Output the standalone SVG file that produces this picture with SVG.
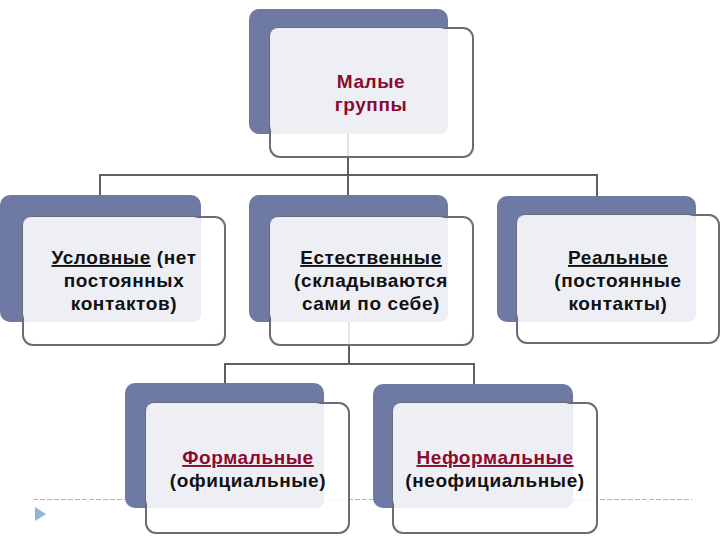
<svg xmlns="http://www.w3.org/2000/svg" width="720" height="540" viewBox="0 0 720 540">
<style>
.back{fill:#6E7AA3}
.front{fill:#ffffff;fill-opacity:0.82;stroke:#6B6B7A;stroke-width:2}
.over{fill:#EEEFF5}
.conn{fill:none;stroke:#5E5E66;stroke-width:2}
text{font-family:"Liberation Sans",Arial,sans-serif;font-size:19px;font-weight:bold;letter-spacing:0.6px;text-anchor:middle;fill:#111}
.red{fill:#8B0A2E}
.u{text-decoration:underline}
</style>
<rect width="720" height="540" fill="#ffffff"/>
<g id="footer">
<line x1="33" y1="499.5" x2="692" y2="499.5" stroke="#B4B4BE" stroke-width="1" stroke-dasharray="5 2"/>
<polygon points="35,507 46,514 35,521" fill="#8DB6DA"/>
</g>
<g id="connectors">
<path class="conn" d="M348 133 V175 M100 175 H597 M100 174 V196 M348 175 V196 M597 174 V196"/>
<path class="conn" d="M349 322 V364 M225 364 H474 M225 363 V384 M474 363 V384"/>
</g>
<g id="n-top">
<rect class="back" x="249" y="9" width="199" height="125" rx="10"/>
<rect class="front" x="270" y="28" width="203" height="129" rx="10"/>
<rect class="over" x="270" y="28" width="178" height="106" rx="8"/>
<text class="red" x="371" y="88">Малые</text>
<text class="red" x="371" y="111">группы</text>
</g>
<g id="n-left">
<rect class="back" x="0" y="195" width="201" height="127" rx="10"/>
<rect class="front" x="23" y="217" width="202" height="128" rx="10"/>
<rect class="over" x="23" y="217" width="178" height="105" rx="8"/>
<text x="124" y="264"><tspan class="u">Условные</tspan> (нет</text>
<text x="124" y="287">постоянных</text>
<text x="124" y="310">контактов)</text>
</g>
<g id="n-mid">
<rect class="back" x="249" y="195" width="199" height="127" rx="10"/>
<rect class="front" x="270" y="217" width="203" height="128" rx="10"/>
<rect class="over" x="270" y="217" width="178" height="105" rx="8"/>
<text x="371" y="264" class="u">Естественные</text>
<text x="371" y="287">(складываются</text>
<text x="371" y="310">сами по себе)</text>
</g>
<g id="n-right">
<rect class="back" x="497" y="196" width="199" height="126" rx="10"/>
<rect class="front" x="517" y="215" width="202" height="128" rx="10"/>
<rect class="over" x="517" y="215" width="179" height="107" rx="8"/>
<text x="618" y="264" class="u">Реальные</text>
<text x="618" y="287">(постоянные</text>
<text x="618" y="310">контакты)</text>
</g>
<g id="n-formal">
<rect class="back" x="125" y="383" width="199" height="125" rx="10"/>
<rect class="front" x="146" y="403" width="203" height="130" rx="10"/>
<rect class="over" x="146" y="403" width="178" height="105" rx="8"/>
<text x="248" y="464" class="red u">Формальные</text>
<text x="248" y="487">(официальные)</text>
</g>
<g id="n-informal">
<rect class="back" x="373" y="384" width="200" height="124" rx="10"/>
<rect class="front" x="393" y="403" width="204" height="130" rx="10"/>
<rect class="over" x="393" y="403" width="180" height="105" rx="8"/>
<text x="495" y="464" class="red u">Неформальные</text>
<text x="495" y="487">(неофициальные)</text>
</g>
</svg>
